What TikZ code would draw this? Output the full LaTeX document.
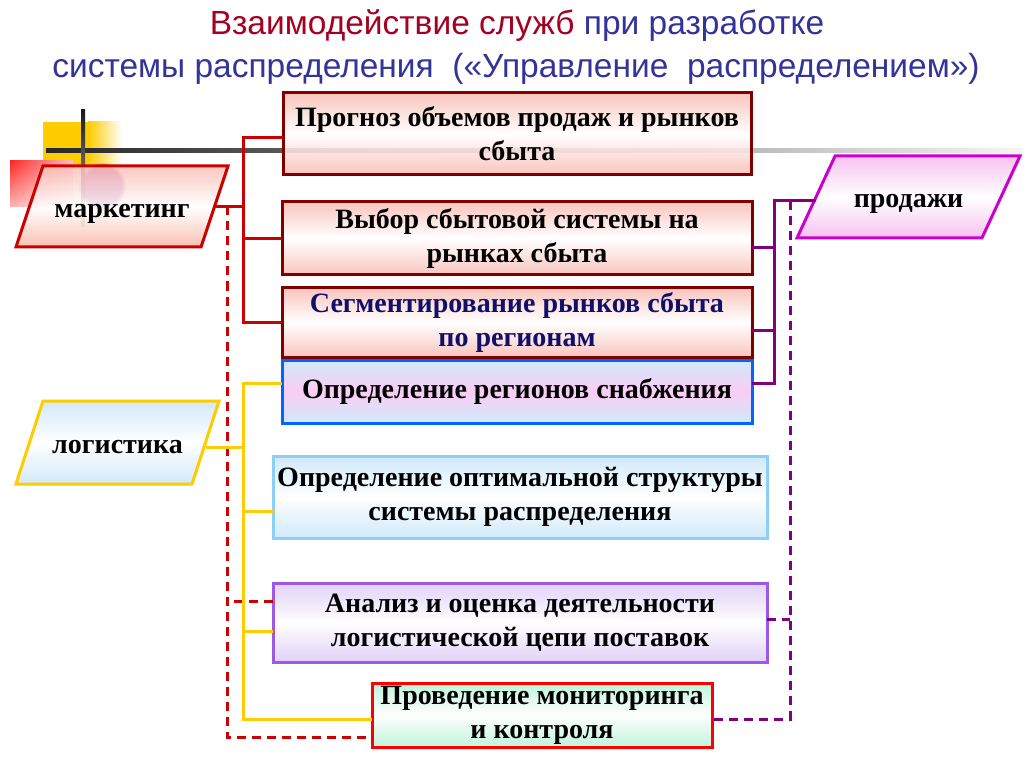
\documentclass[tikz,border=0pt]{standalone}
\usepackage{fontspec}
\setmainfont{Liberation Serif}
\newfontfamily\headfont{Liberation Sans}
\usetikzlibrary{shapes.geometric,fadings,shadings}

\definecolor{headred}{HTML}{A50021}
\definecolor{headblue}{HTML}{333399}
\definecolor{mkred}{HTML}{CC0000}
\definecolor{darkred}{HTML}{800000}
\definecolor{segblue}{HTML}{10106B}
\definecolor{regblue}{HTML}{0066FF}
\definecolor{skyblue}{HTML}{8DD0F5}
\definecolor{lilacline}{HTML}{9B59E6}
\definecolor{salesmag}{HTML}{CC00CC}
\definecolor{purpleline}{HTML}{800080}
\definecolor{gold}{HTML}{FFCC00}
\definecolor{pinkfill}{HTML}{F9BDB5}
\definecolor{bluefill}{HTML}{C9E6F9}
\definecolor{pinkmid}{HTML}{F9C6F3}
\definecolor{lilacfill}{HTML}{DCCBF7}
\definecolor{mintfill}{HTML}{B5F3D5}
\definecolor{salesfill}{HTML}{F5B8EE}

\begin{document}
\begin{tikzpicture}[x=1pt, y=-1pt, line width=3pt,
    head/.style={font=\headfont\fontsize{33.5}{40}\selectfont, text=headblue},
    task node/.style={rectangle, draw, inner sep=0pt, outer sep=0pt, align=center,
      fill opacity=0.88, text opacity=1,
      font=\bfseries\fontsize{28}{34}\selectfont},
    red task/.style={task node, draw=darkred, top color=pinkfill, bottom color=pinkfill, middle color=white},
    service node/.style={trapezium, trapezium stretches body=true, draw, inner xsep=0pt, outer sep=0pt,
      text height=22pt, text depth=0pt,
      fill opacity=0.85, text opacity=1, font=\bfseries\fontsize{28}{34}\selectfont},
    mk line/.style={draw=mkred},
    lg line/.style={draw=gold},
    sl line/.style={draw=purpleline},
    mk dash/.style={draw=mkred, dash pattern=on 9pt off 6pt},
    sl dash/.style={draw=purpleline, dash pattern=on 9pt off 6pt}]

  \useasboundingbox (0,0) rectangle (1025,767);

  % title
  \node[head] (t1) at (517,26) {\textcolor{headred}{Взаимодействие служб} при разработке};
  \node[head] (t2) at (516,69) {системы распределения \ («Управление \ распределением»)};

  % decoration in the corner
  \fill[gold] (43,122) rectangle (88,167);
  \shade[left color=gold, right color=white] (88,122) rectangle (122,167);
  \shade[upper left=red!85, upper right=red!25, lower left=red!30, lower right=white] (10,161) rectangle (73,207);
  \shade[left color=black!85, right color=black!4] (46,149) rectangle (1022,153);
  \shade[top color=black!90, bottom color=black!30] (81,110) rectangle (85,227);
  \fill[violet, path fading=circle with fuzzy edge 20 percent, fill opacity=0.7] (102,186) circle (24);

  % services
  \node[service node, draw=mkred, top color=pinkfill, bottom color=pinkfill!90!orange, middle color=white,
        trapezium left angle=71.6, trapezium right angle=108.4, inner ysep=29.5pt,
        minimum width=212] (mk) at (122,206.5) {маркетинг};
  \node[service node, draw=gold, top color=bluefill, bottom color=bluefill, middle color=white,
        trapezium left angle=72, trapezium right angle=108, inner ysep=30.5pt,
        minimum width=203] (lg) at (117.5,442.5) {логистика};
  \node[service node, draw=salesmag, top color=salesfill, bottom color=salesfill, middle color=white,
        trapezium left angle=65.1, trapezium right angle=114.9, inner ysep=30pt,
        minimum width=223] (sl) at (908.5,197) {продажи};

  % tasks
  \node[red task, minimum width=468, minimum height=82] (1) at (517,134)
    {Прогноз объемов продаж и рынков\\сбыта};
  \node[red task, minimum width=470, minimum height=73] (2) at (517,238.5)
    {Выбор сбытовой системы на\\рынках сбыта};
  \node[red task, text=segblue, minimum width=470, minimum height=69] (3) at (517,322.5)
    {Сегментирование рынков сбыта\\по регионам};
  \node[task node, draw=regblue, top color=bluefill, bottom color=bluefill, middle color=pinkmid,
        minimum width=470, minimum height=63] (4) at (517,391.5)
    {Определение регионов снабжения};
  \node[task node, draw=skyblue, top color=bluefill, bottom color=bluefill, middle color=white,
        minimum width=494, minimum height=82] (5) at (520,497)
    {Определение оптимальной структуры\\системы распределения};
  \node[task node, draw=lilacline, top color=lilacfill, bottom color=lilacfill, middle color=white,
        minimum width=494, minimum height=79] (6) at (520,622.5)
    {Анализ и оценка деятельности\\логистической цепи поставок};
  \node[task node, draw=red, top color=mintfill, bottom color=mintfill, middle color=white,
        minimum width=340, minimum height=64] (7) at (542,715)
    {Проведение мониторинга\\и контроля};

  % trunks
  \coordinate (rt) at (243,0);
  \coordinate (rd) at (227,0);
  \coordinate (pt) at (774,0);
  \coordinate (pd) at (790,0);

  % marketing
  \draw[mk line] (mk.east) -- (mk.east -| rt);
  \draw[mk line] ([yshift=-4pt]1.west) -| (3.west -| rt) -- (3.west);
  \draw[mk line] (2.west) -- (2.west -| rt);
  \draw[mk dash] (mk.east -| rd) |- ([yshift=-22pt]7.west);
  \draw[mk dash] ([yshift=21.5pt]6.west) -- ([yshift=21.5pt]6.west -| rd);

  % logistics
  \draw[lg line] ([yshift=8.5pt]4.west) -| ([yshift=-4pt]7.west -| rt) -- ([yshift=-4pt]7.west);
  \draw[lg line] ([yshift=-4.5pt]lg.east) -- ([yshift=-4.5pt]lg.east -| rt);
  \draw[lg line] ([yshift=-14pt]5.west) -- ([yshift=-14pt]5.west -| rt);
  \draw[lg line] ([yshift=-8.5pt]6.west) -- ([yshift=-8.5pt]6.west -| rt);

  % sales
  \draw[sl line] ([yshift=-4pt]sl.west) -| ([yshift=8.5pt]4.east -| pt) -- ([yshift=8.5pt]4.east);
  \draw[sl line] ([yshift=-9.5pt]2.east) -- ([yshift=-9.5pt]2.east -| pt);
  \draw[sl line] ([yshift=-7.5pt]3.east) -- ([yshift=-7.5pt]3.east -| pt);
  \draw[sl dash] ([yshift=-4pt]sl.west -| pd) |- ([yshift=-4pt]7.east);
  \draw[sl dash] ([yshift=3.5pt]6.east) -- ([yshift=3.5pt]6.east -| pd);
\end{tikzpicture}
\end{document}
